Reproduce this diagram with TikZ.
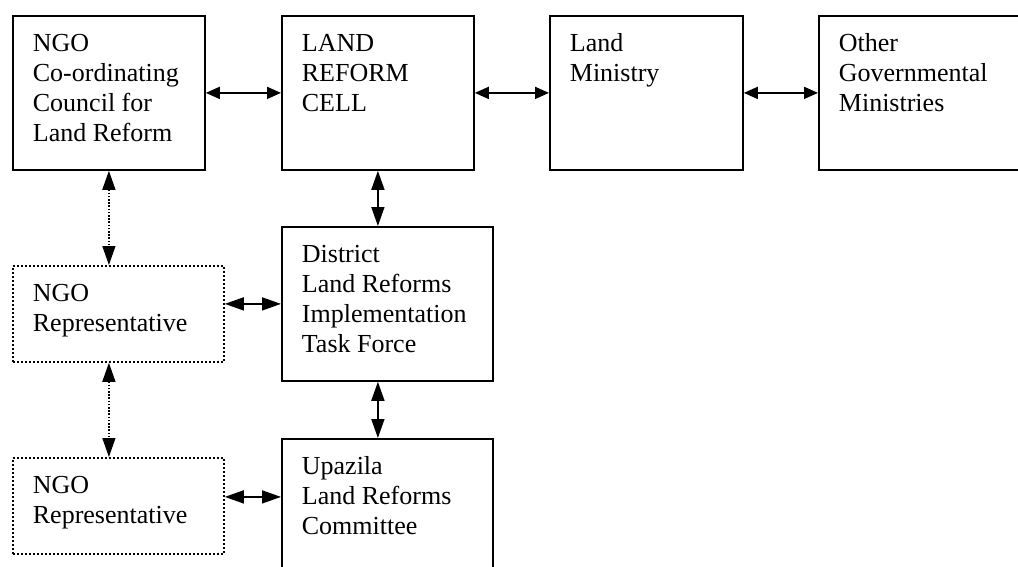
\documentclass[tikz,border=0pt]{standalone}
\usepackage{fontspec}
\setmainfont{Liberation Serif}
\usetikzlibrary{arrows.meta}

% text set at the top left of a box: width, height, lines
\newcommand{\boxtext}[3]{\parbox[t][#2pt][t]{#1pt}{\raggedright #3}}

\tikzset{
    box/.style={draw, line width=1.8pt, anchor=north west, inner xsep=20pt, inner ysep=18pt,
        font=\fontsize{26}{30}\selectfont},
    ngobox/.style={box, dash pattern=on 2pt off 2pt},
    link/.style={{Triangle[length=19pt,width=13pt]}-{Triangle[length=19pt,width=13pt]}, line width=1.6pt},
    toplink/.style={link, {Triangle[length=14pt,width=12pt]}-{Triangle[length=14pt,width=12pt]}},
    ngolink/.style={link, line width=1.4pt, dash pattern=on 1.6pt off 1.6pt}
}

\begin{document}
\begin{tikzpicture}[x=1pt, y=-1pt]
    \useasboundingbox (0,0) rectangle (1018,566);
    \clip (0,0) rectangle (1018,566);

    % Top row
    \node[box] (council) at (12,15) {\boxtext{152}{118}{NGO\\Co-ordinating\\Council for\\Land Reform}};
    \node[box] (cell) at (281,15) {\boxtext{152}{118}{LAND\\REFORM\\CELL}};
    \node[box] (ministry) at (549,15) {\boxtext{153}{118}{Land\\Ministry}};
    \node[box] (other) at (818,15) {\boxtext{180}{118}{Other\\Governmental\\Ministries}};

    % Middle column
    \node[box] (district) at (281,226) {\boxtext{171}{118}{District\\Land Reforms\\Implementation\\Task Force}};
    \node[box] (upazila) at (281,438) {\boxtext{171}{118}{Upazila\\Land Reforms\\Committee}};

    % NGO representatives
    \node[ngobox] (rep1) at (12,265) {\boxtext{171}{60}{NGO\\Representative}};
    \node[ngobox] (rep2) at (12,457) {\boxtext{171}{60}{NGO\\Representative}};

    % Links along the top
    \draw[toplink] (council.east) -- (cell.west);
    \draw[toplink] (cell.east) -- (ministry.west);
    \draw[toplink] (ministry.east) -- (other.west);

    % Links down the middle
    \draw[link] (cell.south) -- (cell.south |- district.north);
    \draw[link] (district.south -| cell.south) -- (upazila.north -| cell.south);

    % Links of the NGO side
    \draw[ngolink] (council.south) -- (council.south |- rep1.north);
    \draw[ngolink] (rep1.south -| council.south) -- (rep2.north -| council.south);
    \draw[link] ([yshift=10pt]rep1.east) -- ([yshift=10pt]rep1.east -| district.west);
    \draw[link] ([yshift=9pt]rep2.east) -- ([yshift=9pt]rep2.east -| upazila.west);
\end{tikzpicture}
\end{document}
